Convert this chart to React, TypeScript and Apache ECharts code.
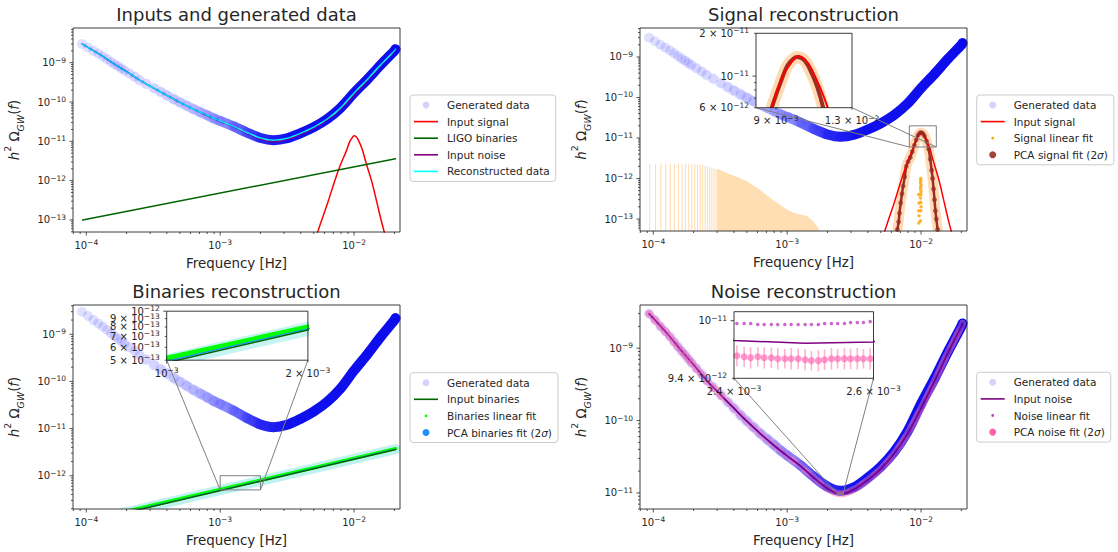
import React, { useEffect, useRef } from 'react';
import * as echarts from 'echarts';

const FONT = 'DejaVu Sans';
const INK = '#262626';

// ---------------- data (frequency in Hz, value h^2 Omega_GW) ----------------
const genFreq = [9.3e-5, 1.03e-4, 1.13e-4, 1.23e-4, 1.33e-4, 1.43e-4, 1.53e-4, 1.63e-4, 1.73e-4, 1.83e-4, 1.93e-4, 2.1e-4, 2.3e-4, 2.5e-4, 2.8e-4, 3.2e-4, 3.6e-4, 4.0e-4, 4.5e-4, 5.0e-4, 5.6e-4, 6.3e-4, 7.1e-4, 8.0e-4, 9.0e-4, 1.0e-3, 1.26e-3, 1.58e-3, 2.0e-3, 2.5e-3, 3.16e-3, 4.0e-3, 5.0e-3, 6.3e-3, 7.9e-3, 1.0e-2, 1.26e-2, 1.58e-2, 2.0e-2, 2.04e-2];
const genOmega = [3.0e-9, 2.45e-9, 2.0e-9, 1.7e-9, 1.45e-9, 1.23e-9, 1.05e-9, 9.1e-10, 8.1e-10, 7.1e-10, 6.3e-10, 5.3e-10, 4.4e-10, 3.6e-10, 2.9e-10, 2.25e-10, 1.8e-10, 1.48e-10, 1.18e-10, 9.8e-11, 8.1e-11, 6.6e-11, 5.5e-11, 4.6e-11, 3.8e-11, 3.3e-11, 2.4e-11, 1.68e-11, 1.22e-11, 1.07e-11, 1.2e-11, 1.62e-11, 2.3e-11, 3.7e-11, 7.0e-11, 1.7e-10, 3.8e-10, 8.8e-10, 2.0e-9, 2.2e-9];

const noiseFreq = [9.3e-5, 1.26e-4, 1.58e-4, 2.0e-4, 2.5e-4, 3.16e-4, 4.0e-4, 5.0e-4, 6.3e-4, 7.9e-4, 1.0e-3, 1.26e-3, 1.58e-3, 2.0e-3, 2.4e-3, 2.5e-3, 2.6e-3, 3.16e-3, 4.0e-3, 5.0e-3, 6.3e-3, 7.9e-3, 1.0e-2, 1.26e-2, 1.58e-2, 2.0e-2, 2.04e-2];
const noiseOmega = [3.0e-9, 1.62e-9, 9.8e-10, 5.9e-10, 3.6e-10, 2.3e-10, 1.48e-10, 9.8e-11, 6.6e-11, 4.6e-11, 3.25e-11, 2.35e-11, 1.62e-11, 1.15e-11, 9.79e-12, 9.76e-12, 9.775e-12, 1.12e-11, 1.51e-11, 2.15e-11, 3.5e-11, 6.5e-11, 1.48e-10, 3.5e-10, 8.5e-10, 2.0e-9, 2.2e-9];

const sigFreq = [5.0e-3, 5.6e-3, 6.3e-3, 7.1e-3, 7.9e-3, 8.7e-3, 9.3e-3, 9.65e-3, 1.0e-2, 1.035e-2, 1.07e-2, 1.15e-2, 1.23e-2, 1.35e-2, 1.48e-2, 1.62e-2, 1.78e-2];
const sigOmega = [2.5e-14, 7.9e-14, 2.5e-13, 8.9e-13, 2.5e-12, 5.4e-12, 1.0e-11, 1.22e-11, 1.38e-11, 1.31e-11, 1.12e-11, 6.3e-12, 2.8e-12, 1.0e-12, 2.8e-13, 7.9e-14, 2.5e-14];

const binFreq = [9.4e-5, 2.04e-2];
const binOmega = [1.0e-13, 3.6e-12];
const binLinFreq = [9.4e-5, 1.0e-3, 2.0e-3, 2.04e-2];
const binLinOmega = [1.07e-13, 5.14e-13, 8.0e-13, 3.75e-12];
const binPcaFreq = [9.4e-5, 1.0e-3, 2.0e-3, 2.04e-2];
const binPcaOmega = [1.02e-13, 4.93e-13, 7.8e-13, 3.67e-12];

const pcaSigFreq = [6.65e-3, 6.8e-3, 6.9e-3, 7.05e-3, 7.2e-3, 7.35e-3, 7.55e-3, 7.76e-3, 8.0e-3, 8.3e-3, 8.6e-3, 8.9e-3, 9.2e-3, 9.5e-3, 9.8e-3, 1.0e-2, 1.03e-2, 1.06e-2, 1.1e-2, 1.14e-2, 1.17e-2, 1.2e-2, 1.22e-2, 1.24e-2, 1.26e-2, 1.28e-2, 1.3e-2, 1.33e-2];
const pcaSigOmega = [5.5e-14, 8.5e-14, 1.4e-13, 2.5e-13, 4.2e-13, 6.5e-13, 1.1e-12, 2.0e-12, 2.6e-12, 3.3e-12, 4.6e-12, 6.6e-12, 9.0e-12, 1.18e-11, 1.33e-11, 1.36e-11, 1.3e-11, 1.12e-11, 8.3e-12, 5.3e-12, 3.0e-12, 1.6e-12, 1.0e-12, 5.5e-13, 3.0e-13, 1.6e-13, 1.0e-13, 5.5e-14];

const sigLinFreq = [9.95e-3, 9.95e-3, 9.9e-3, 1.0e-2, 9.95e-3, 9.9e-3, 1.0e-2, 9.95e-3, 9.9e-3, 9.95e-3, 1.0e-2, 9.95e-3, 9.9e-3, 9.6e-3, 9.65e-3, 9.6e-3, 9.65e-3, 9.6e-3];
const sigLinOmega = [1.0e-12, 9.0e-13, 8.0e-13, 7.0e-13, 6.2e-13, 5.5e-13, 4.8e-13, 4.0e-13, 3.3e-13, 2.6e-13, 2.0e-13, 1.6e-13, 9.0e-14, 4.0e-13, 2.5e-13, 1.6e-13, 1.2e-13, 8.0e-14];

// PCA signal fit error bars at low frequency (upper ends; lower ends are off-axis)
const pcaSigErrFreq = [9.4e-5, 1.04e-4, 1.14e-4, 1.24e-4, 1.34e-4, 1.44e-4, 1.54e-4, 1.64e-4, 1.74e-4, 1.84e-4, 1.94e-4, 2.04e-4, 2.14e-4, 2.24e-4, 2.34e-4, 2.44e-4, 2.54e-4, 2.64e-4, 2.74e-4, 2.84e-4, 2.94e-4, 3.04e-4, 3.14e-4, 3.24e-4, 3.34e-4, 3.44e-4];
const pcaSigErrTop = [2.3e-12, 2.3e-12, 2.3e-12, 2.3e-12, 2.28e-12, 2.28e-12, 2.28e-12, 2.27e-12, 2.27e-12, 2.26e-12, 2.26e-12, 2.25e-12, 2.24e-12, 2.22e-12, 2.15e-12, 2.07e-12, 1.98e-12, 1.9e-12, 1.83e-12, 1.76e-12, 1.7e-12, 1.63e-12, 1.57e-12, 1.51e-12, 1.46e-12, 1.41e-12];
const pcaSigEnvFreq = [3.0e-4, 3.5e-4, 4.2e-4, 5.0e-4, 6.2e-4, 7.8e-4, 9.5e-4, 1.1e-3, 1.25e-3, 1.4e-3, 1.55e-3, 1.67e-3, 1.76e-3];
const pcaSigEnvTop = [1.73e-12, 1.38e-12, 1.1e-12, 8.5e-13, 5.4e-13, 3.0e-13, 1.9e-13, 1.45e-13, 1.3e-13, 1.18e-13, 9.0e-14, 6.6e-14, 4.9e-14];

const pcaNoiseFreq = [9.3e-5, 1.03e-4, 1.13e-4, 1.23e-4, 1.33e-4, 1.43e-4, 1.53e-4, 1.63e-4, 1.73e-4, 1.83e-4, 1.93e-4, 2.1e-4, 2.3e-4, 2.5e-4, 2.8e-4, 3.2e-4];
const pcaNoiseOmega = [3.0e-9, 2.44e-9, 1.99e-9, 1.69e-9, 1.44e-9, 1.22e-9, 1.04e-9, 9.0e-10, 8.0e-10, 7.0e-10, 6.2e-10, 5.2e-10, 4.35e-10, 3.55e-10, 2.85e-10, 2.2e-10];

// zoomed window of the noise panel
const zoomFreq = [2.404e-3, 2.414e-3, 2.423e-3, 2.433e-3, 2.442e-3, 2.452e-3, 2.461e-3, 2.471e-3, 2.48e-3, 2.49e-3, 2.5e-3, 2.509e-3, 2.519e-3, 2.528e-3, 2.538e-3, 2.547e-3, 2.557e-3, 2.566e-3, 2.576e-3, 2.585e-3, 2.595e-3];
const noiseLinZoom = [9.97e-12, 9.97e-12, 9.97e-12, 9.96e-12, 9.96e-12, 9.96e-12, 9.96e-12, 9.96e-12, 9.96e-12, 9.96e-12, 9.96e-12, 9.96e-12, 9.96e-12, 9.97e-12, 9.97e-12, 9.97e-12, 9.97e-12, 9.98e-12, 9.98e-12, 9.98e-12, 9.99e-12];
const pcaNoiseZoom = [9.63e-12, 9.62e-12, 9.61e-12, 9.62e-12, 9.61e-12, 9.61e-12, 9.6e-12, 9.6e-12, 9.6e-12, 9.6e-12, 9.59e-12, 9.58e-12, 9.58e-12, 9.59e-12, 9.6e-12, 9.6e-12, 9.6e-12, 9.6e-12, 9.6e-12, 9.6e-12, 9.6e-12];
const pcaNoiseErr = [1.1e-13, 1.05e-13, 1.1e-13, 1.0e-13, 1.1e-13, 1.05e-13, 1.1e-13, 1.0e-13, 1.1e-13, 1.05e-13, 1.1e-13, 1.0e-13, 1.1e-13, 1.05e-13, 1.1e-13, 1.0e-13, 1.1e-13, 1.05e-13, 1.1e-13, 1.0e-13, 1.1e-13];

const titles = ['Inputs and generated data', 'Signal reconstruction', 'Binaries reconstruction', 'Noise reconstruction'];
const legendNames = [
  ['Generated data', 'Input signal', 'LIGO binaries', 'Input noise', 'Reconstructed data'],
  ['Generated data', 'Input signal', 'Signal linear fit', 'PCA signal fit (2σ)'],
  ['Generated data', 'Input binaries', 'Binaries linear fit', 'PCA binaries fit (2σ)'],
  ['Generated data', 'Input noise', 'Noise linear fit', 'PCA noise fit (2σ)'],
];

// inset tick labels
const inset2XTicks = [{ v: 9e-3, label: ['9 × 10', '−3'] }, { v: 1.3e-2, label: ['1.3 × 10', '−2'] }];
const inset2YTicks = [{ v: 2e-11, label: ['2 × 10', '−11'] }, { v: 1e-11, label: ['10', '−11'], major: true }, { v: 9e-12 }, { v: 8e-12 }, { v: 7e-12 }, { v: 6e-12, label: ['6 × 10', '−12'] }];
const inset3XTicks = [{ v: 1e-3, label: ['10', '−3'], major: true }, { v: 2e-3, label: ['2 × 10', '−3'] }];
const inset3YTicks = [{ v: 1e-12, label: ['10', '−12'], major: true }, { v: 9e-13, label: ['9 × 10', '−13'] }, { v: 8e-13, label: ['8 × 10', '−13'] }, { v: 7e-13, label: ['7 × 10', '−13'] }, { v: 6e-13, label: ['6 × 10', '−13'] }, { v: 5e-13, label: ['5 × 10', '−13'] }];
const inset4XTicks = [{ v: 2.4e-3, label: ['2.4 × 10', '−3'] }, { v: 2.6e-3, label: ['2.6 × 10', '−3'] }];
const inset4YTicks = [{ v: 1e-11, label: ['10', '−11'], major: true }, { v: 9.4e-12, label: ['9.4 × 10', '−12'] }];

// ---------------- layout ----------------
const LAYOUT = [
  { left: 73, top: 28, width: 327, height: 204 },
  { left: 640, top: 28, width: 327, height: 203 },
  { left: 73, top: 305, width: 327, height: 204 },
  { left: 640, top: 305, width: 327, height: 204 },
  { left: 756, top: 33.3, width: 96, height: 74.4 },
  { left: 166.7, top: 311.2, width: 141.2, height: 49 },
  { left: 734, top: 311.7, width: 139.5, height: 66.6 },
];
const XR: [number, number] = [7.96e-5, 2.203e-2];
const RANGES = [
  { x: XR, y: [4.95e-14, 7.62e-9] },
  { x: XR, y: [5.06e-14, 5.19e-9] },
  { x: XR, y: [1.97e-13, 4.17e-9] },
  { x: XR, y: [6.0e-12, 3.95e-9] },
  { x: [8.17e-3, 1.3e-2], y: [6e-12, 2e-11] },
  { x: [1e-3, 2e-3], y: [5e-13, 1e-12] },
  { x: [2.4e-3, 2.6e-3], y: [9.4e-12, 1.0097e-11] },
];
const TITLE_POS = [[236.5, 5], [803.5, 5], [236.5, 282], [803.5, 282]];
const LEGEND_POS = [[410, 95], [976.7, 95], [410, 372.7], [976.7, 372.3]];

type Tick = { v: number; major?: boolean; label?: string[] };

const TICK_RICH = {
  b: { fontSize: 10, fontFamily: FONT, lineHeight: 13 },
  s: { fontSize: 7.5, fontFamily: FONT, lineHeight: 8, verticalAlign: 'top' },
};

function logTicks(min: number, max: number): Tick[] {
  const out: Tick[] = [];
  const e0 = Math.floor(Math.log10(min));
  const e1 = Math.ceil(Math.log10(max));
  for (let e = e0; e <= e1; e++) {
    for (let k = 1; k <= 9; k++) {
      const v = k * Math.pow(10, e);
      if (v < min * 0.9999 || v > max * 1.0001) continue;
      if (k === 1) out.push({ v, major: true, label: ['10', '−' + String(-e)] });
      else out.push({ v, major: false });
    }
  }
  return out;
}

function decor(g: number, xt: Tick[], yt: Tick[]) {
  const r = RANGES[g];
  const items: { kind: number; t?: Tick }[] = [];
  const data: number[][] = [];
  xt.forEach((t) => { items.push({ kind: 0, t }); data.push([t.v, r.y[0]]); });
  yt.forEach((t) => { items.push({ kind: 1, t }); data.push([r.x[0], t.v]); });
  items.push({ kind: 2 });
  data.push([r.x[0], r.y[0]]);
  return {
    type: 'custom', name: 'axes-' + g, xAxisIndex: g, yAxisIndex: g, z: 8, silent: true, clip: false, data,
    renderItem: (params: any, api: any) => {
      const it = items[params.dataIndex];
      if (it.kind === 2) {
        const a = api.coord([r.x[0], r.y[0]]);
        const b = api.coord([r.x[1], r.y[1]]);
        return { type: 'rect', shape: { x: a[0], y: b[1], width: b[0] - a[0], height: a[1] - b[1] }, style: { fill: 'none', stroke: INK, lineWidth: 0.9 } };
      }
      const t = it.t as Tick;
      const p = api.coord([api.value(0), api.value(1)]);
      const len = t.major ? 3.5 : 2;
      const ch: any[] = [];
      const txt = t.label ? `{b|${t.label[0]}}{s|${t.label[1]}}` : '';
      if (it.kind === 0) {
        ch.push({ type: 'line', shape: { x1: p[0], y1: p[1], x2: p[0], y2: p[1] + len }, style: { stroke: INK, lineWidth: 0.8 } });
        if (t.label) ch.push({ type: 'text', x: p[0], y: p[1] + 6.5, style: { text: txt, rich: TICK_RICH, fill: INK, fontSize: 10, fontFamily: FONT, align: 'center', verticalAlign: 'top' } });
      } else {
        ch.push({ type: 'line', shape: { x1: p[0] - len, y1: p[1], x2: p[0], y2: p[1] }, style: { stroke: INK, lineWidth: 0.8 } });
        if (t.label) ch.push({ type: 'text', x: p[0] - 7, y: p[1], style: { text: txt, rich: TICK_RICH, fill: INK, fontSize: 10, fontFamily: FONT, align: 'right', verticalAlign: 'middle' } });
      }
      return { type: 'group', children: ch };
    },
  };
}

function zoomMark(main: number, inset: number) {
  const r = RANGES[inset];
  const L = LAYOUT[inset];
  return {
    type: 'custom', name: 'zoom-' + inset, xAxisIndex: main, yAxisIndex: main, z: 3, silent: true, clip: false,
    data: [[r.x[0], r.y[0]]],
    renderItem: (_p: any, api: any) => {
      const a = api.coord([r.x[0], r.y[0]]);
      const b = api.coord([r.x[1], r.y[1]]);
      const by = L.top + L.height;
      const st = { stroke: '#7f7f7f', lineWidth: 1, fill: 'none' };
      return {
        type: 'group', children: [
          { type: 'rect', shape: { x: a[0], y: b[1], width: b[0] - a[0], height: a[1] - b[1] }, style: st },
          { type: 'line', shape: { x1: L.left, y1: by, x2: a[0], y2: a[1] }, style: st },
          { type: 'line', shape: { x1: L.left + L.width, y1: by, x2: b[0], y2: a[1] }, style: st },
        ],
      };
    },
  };
}

const P = (f: number[], v: number[]) => f.map((x, i) => [x, v[i]]);

function scatter(name: string, g: number, data: number[][], size: number, color: string) {
  return { type: 'scatter', name, xAxisIndex: g, yAxisIndex: g, data, symbol: 'circle', symbolSize: size, itemStyle: { color }, silent: true, clip: true, z: g >= 4 ? 6 : 2 };
}
function line(name: string, g: number, data: number[][], width: number, color: any, smooth: number | boolean = false) {
  return {
    type: 'line', name, xAxisIndex: g, yAxisIndex: g, data, symbol: 'none', showSymbol: false, smooth,
    lineStyle: { width, color, cap: 'round', join: 'round' }, itemStyle: { color: typeof color === 'string' ? color : '#0000ff' },
    silent: true, clip: true, z: g >= 4 ? 6 : 2,
  };
}
// thick strokes drawn through a custom series so that they are clipped exactly at the frame
function poly(name: string, g: number, f: number[], v: number[], width: number, color: string, smooth = 0) {
  return {
    type: 'custom', name, xAxisIndex: g, yAxisIndex: g, z: g >= 4 ? 6 : 2, silent: true, clip: true,
    data: [[f[0], v[0]]],
    renderItem: (_p: any, api: any) => ({
      type: 'polyline',
      shape: { points: f.map((x, i) => api.coord([x, v[i]])), smooth },
      style: { stroke: color, lineWidth: width, fill: 'none', lineCap: 'round', lineJoin: 'round' },
    }),
  };
}

const BAND = {
  type: 'linear', x: 0, y: 0, x2: 1, y2: 0,
  colorStops: [
    { offset: 0, color: 'rgba(0,0,255,0)' },
    { offset: 0.22, color: 'rgba(0,0,255,0.04)' },
    { offset: 0.36, color: 'rgba(0,0,255,0.2)' },
    { offset: 0.46, color: 'rgba(10,10,255,0.5)' },
    { offset: 0.56, color: 'rgba(0,0,240,0.82)' },
    { offset: 0.66, color: 'rgba(0,0,235,0.93)' },
    { offset: 1, color: 'rgba(0,0,235,0.95)' },
  ],
};
const GEN_COLOR = 'rgba(0,0,255,0.15)';
const ORANGE_ERR = '#ffdeb4';

const LINE_ICON = 'path://M0,0H24V1.6H0Z';
const DOT_ICON = 'path://M0,0M10,10M3,5A2,2,0,1,1,7,5A2,2,0,1,1,3,5Z';
const LEGEND_STYLE: Record<string, { icon: string; color: string }> = {
  'Generated data': { icon: 'circle', color: '#d3d3fb' },
  'Input signal': { icon: LINE_ICON, color: '#ff0000' },
  'LIGO binaries': { icon: LINE_ICON, color: '#006400' },
  'Input noise': { icon: LINE_ICON, color: '#800080' },
  'Reconstructed data': { icon: LINE_ICON, color: '#00ffff' },
  'Signal linear fit': { icon: DOT_ICON, color: '#ffa500' },
  'PCA signal fit (2σ)': { icon: 'circle', color: '#a3433a' },
  'Input binaries': { icon: LINE_ICON, color: '#006400' },
  'Binaries linear fit': { icon: DOT_ICON, color: '#00ff00' },
  'PCA binaries fit (2σ)': { icon: 'circle', color: '#1e90ff' },
  'Noise linear fit': { icon: DOT_ICON, color: '#bf40bf' },
  'PCA noise fit (2σ)': { icon: 'circle', color: '#ff62ad' },
};

function buildOption() {
  const gen = P(genFreq, genOmega);
  const noise = P(noiseFreq, noiseOmega);
  const sig = P(sigFreq, sigOmega);
  const bin = P(binFreq, binOmega);
  const binLin = P(binLinFreq, binLinOmega);
  const binPca = P(binPcaFreq, binPcaOmega);
  const pcaSig = P(pcaSigFreq, pcaSigOmega);

  const nameStyle = {
    fontFamily: FONT, fontSize: 13.4, color: INK,
    rich: {
      i: { fontStyle: 'italic', fontSize: 13.4, fontFamily: FONT, lineHeight: 22, color: INK },
      n: { fontSize: 13.4, fontFamily: FONT, lineHeight: 22, color: INK },
      sup: { fontSize: 9.4, fontFamily: FONT, lineHeight: 14, verticalAlign: 'top', color: INK },
      sub: { fontSize: 9.4, fontStyle: 'italic', fontFamily: FONT, lineHeight: 12, verticalAlign: 'bottom', color: INK },
    },
  };
  const hidden = { axisLine: { show: false }, axisTick: { show: false }, axisLabel: { show: false }, splitLine: { show: false }, minorTick: { show: false }, minorSplitLine: { show: false } };

  const xAxis = RANGES.map((r, i) => ({
    type: 'log', logBase: 10, gridIndex: i, min: r.x[0], max: r.x[1], show: i < 4,
    name: i < 4 ? 'Frequency [Hz]' : '', nameLocation: 'middle', nameGap: 25, nameTextStyle: { fontFamily: FONT, fontSize: 13.4, color: INK },
    ...hidden,
  }));
  const yAxis = RANGES.map((r, i) => ({
    type: 'log', logBase: 10, gridIndex: i, min: r.y[0], max: r.y[1], show: i < 4,
    name: i < 4 ? '{i|h}{sup|2}{n| Ω}{sub|GW}{n|(}{i|f}{n|)}' : '', nameLocation: 'middle', nameRotate: 90, nameGap: 48, nameTextStyle: nameStyle,
    ...hidden,
  }));

  const grid = LAYOUT.map((l, i) => ({
    left: l.left, top: l.top, width: l.width, height: l.height, containLabel: false,
    show: i >= 4, backgroundColor: '#ffffff', borderWidth: 0, z: i >= 4 ? 5 : 0,
  }));

  const series: any[] = [];

  // ---- panel 1: inputs
  series.push(scatter('Generated data', 0, gen, 10, GEN_COLOR));
  series.push(line('gen-band-0', 0, gen, 10, BAND, 0.3));
  series.push(line('Input signal', 0, sig, 1.5, '#ff0000', 0.4));
  series.push(line('LIGO binaries', 0, bin, 1.5, '#006400'));
  series.push(line('Input noise', 0, noise, 1.5, '#800080', 0.3));
  series.push(line('Reconstructed data', 0, gen, 1.5, '#00ffff', 0.3));

  // ---- panel 2: signal
  series.push({
    type: 'custom', name: 'pca-sig-err-lines', xAxisIndex: 1, yAxisIndex: 1, z: 2, silent: true, clip: true,
    data: P(pcaSigErrFreq, pcaSigErrTop),
    renderItem: (_p: any, api: any) => {
      const a = api.coord([api.value(0), api.value(1)]);
      const b = api.coord([api.value(0), RANGES[1].y[0]]);
      return { type: 'line', shape: { x1: a[0], y1: a[1], x2: b[0], y2: b[1] + 2 }, style: { stroke: ORANGE_ERR, lineWidth: 1.1 } };
    },
  });
  series.push({
    type: 'custom', name: 'pca-sig-err-area', xAxisIndex: 1, yAxisIndex: 1, z: 2, silent: true, clip: true,
    data: [[pcaSigEnvFreq[0], pcaSigEnvTop[0]]],
    renderItem: (_p: any, api: any) => {
      const pts = pcaSigEnvFreq.map((f, i) => api.coord([f, pcaSigEnvTop[i]]));
      const yb = RANGES[1].y[0];
      const b1 = api.coord([pcaSigEnvFreq[pcaSigEnvFreq.length - 1], yb]);
      const b0 = api.coord([pcaSigEnvFreq[0], yb]);
      return { type: 'polygon', shape: { points: [...pts, [b1[0], b1[1] + 2], [b0[0], b0[1] + 2]] }, style: { fill: ORANGE_ERR } };
    },
  });
  series.push(scatter('Generated data', 1, gen, 10, GEN_COLOR));
  series.push(line('gen-band-1', 1, gen, 10, BAND, 0.3));
  series.push(poly('pca-sig-glow-1', 1, pcaSigFreq, pcaSigOmega, 10, 'rgba(255,205,150,0.7)', 0.3));
  series.push(poly('pca-sig-core-1', 1, pcaSigFreq, pcaSigOmega, 2.5, '#9b2f28', 0.3));
  series.push(scatter('PCA signal fit (2σ)', 1, pcaSig, 5, 'rgba(150,40,35,0.8)'));
  series.push(line('Input signal', 1, sig, 1.5, '#ff0000', 0.4));
  series.push(scatter('Signal linear fit', 1, P(sigLinFreq, sigLinOmega), 3.5, '#ffa500'));

  // ---- panel 3: binaries
  series.push(scatter('Generated data', 2, gen, 10, GEN_COLOR));
  series.push(line('gen-band-2', 2, gen, 10, BAND, 0.3));
  series.push(poly('pca-bin-glow-2', 2, binPcaFreq, binPcaOmega, 10, 'rgba(175,238,238,0.8)'));
  series.push(poly('Binaries linear fit', 2, binLinFreq, binLinOmega, 3.5, '#00ff00'));
  series.push(line('PCA binaries fit (2σ)', 2, binPca, 1.2, '#1e90ff'));
  series.push(line('Input binaries', 2, bin, 1.5, '#006400'));

  // ---- panel 4: noise
  series.push(scatter('Generated data', 3, gen, 10, GEN_COLOR));
  series.push(line('gen-band-3', 3, gen, 10, BAND, 0.3));
  series.push(line('pca-noise-glow-3', 3, noise, 7, 'rgba(255,120,185,0.5)', 0.3));
  series.push(scatter('PCA noise fit (2σ)', 3, P(pcaNoiseFreq, pcaNoiseOmega), 8, 'rgba(255,105,180,0.45)'));
  series.push(scatter('Noise linear fit', 3, P(zoomFreq, noiseLinZoom), 3.5, '#bf40bf'));
  series.push(line('Input noise', 3, noise, 1.8, '#800080', 0.3));

  // ---- inset of panel 2
  series.push(poly('pca-sig-glow-4', 4, pcaSigFreq, pcaSigOmega, 12, 'rgba(255,205,150,0.75)', 0.3));
  series.push(poly('pca-sig-core-4', 4, pcaSigFreq, pcaSigOmega, 4, '#9b2f28', 0.3));
  series.push(poly('sig-4', 4, sigFreq, sigOmega, 2, '#ff0000', 0.4));
  // ---- inset of panel 3
  series.push(poly('pca-bin-glow-5', 5, binPcaFreq, binPcaOmega, 14, 'rgba(175,238,238,0.7)'));
  series.push(poly('binlin-5', 5, binLinFreq, binLinOmega, 5, '#00ff00'));
  series.push(line('binpca-5', 5, binPca, 1.2, '#1e90ff'));
  series.push(line('bin-5', 5, bin, 1.5, '#006400'));
  // ---- inset of panel 4
  series.push({
    type: 'custom', name: 'pca-noise-err-6', xAxisIndex: 6, yAxisIndex: 6, z: 6, silent: true, clip: true,
    data: zoomFreq.map((f, i) => [f, pcaNoiseZoom[i], pcaNoiseErr[i]]),
    renderItem: (_p: any, api: any) => {
      const f = api.value(0), v = api.value(1), e = api.value(2);
      const a = api.coord([f, v - e]);
      const b = api.coord([f, v + e]);
      return { type: 'line', shape: { x1: a[0], y1: a[1], x2: b[0], y2: b[1] }, style: { stroke: '#ffb3d1', lineWidth: 1.6 } };
    },
  });
  series.push(scatter('pca-noise-6', 6, P(zoomFreq, pcaNoiseZoom), 7, 'rgba(255,105,180,0.85)'));
  series.push(scatter('noise-lin-6', 6, P(zoomFreq, noiseLinZoom), 3.5, '#bf40bf'));
  series.push(line('noise-6', 6, noise, 1.5, '#800080', false));

  // zoom boxes and connectors
  series.push(zoomMark(1, 4));
  series.push(zoomMark(2, 5));
  series.push(zoomMark(3, 6));

  // axes decorations
  for (let g = 0; g < 4; g++) series.push(decor(g, logTicks(RANGES[g].x[0], RANGES[g].x[1]), logTicks(RANGES[g].y[0], RANGES[g].y[1])));
  series.push(decor(4, inset2XTicks, inset2YTicks));
  series.push(decor(5, inset3XTicks, inset3YTicks));
  series.push(decor(6, inset4XTicks, inset4YTicks));

  const title = titles.map((t, i) => ({
    text: t, left: TITLE_POS[i][0], top: TITLE_POS[i][1], textAlign: 'center', padding: 0,
    textStyle: { fontFamily: FONT, fontSize: 18, fontWeight: 'normal', color: INK },
  }));

  const legend = legendNames.map((names, i) => ({
    left: LEGEND_POS[i][0], top: LEGEND_POS[i][1], orient: 'vertical', selectedMode: false,
    itemWidth: 24, itemHeight: 7, itemGap: 4.6, padding: [4, 6, 4, 4],
    borderColor: '#cccccc', borderWidth: 1, borderRadius: 3, backgroundColor: '#ffffff',
    textStyle: { fontFamily: FONT, fontSize: 10.5, color: INK, lineHeight: 12, padding: [0, 0, 0, 4], rich: { it: { fontFamily: FONT, fontSize: 10.5, fontStyle: 'italic', lineHeight: 12, color: INK } } },
    formatter: (n: string) => n.replace('2σ', '2{it|σ}'),
    data: names.map((n) => ({ name: n, icon: LEGEND_STYLE[n].icon, itemStyle: { color: LEGEND_STYLE[n].color, opacity: 1 } })),
  }));

  return {
    animation: false,
    backgroundColor: '#ffffff',
    textStyle: { fontFamily: FONT },
    title, legend, grid, xAxis, yAxis, series,
  };
}

export default function App() {
  const ref = useRef<HTMLDivElement>(null);
  useEffect(() => {
    if (!ref.current) return;
    const chart = echarts.init(ref.current, undefined, { renderer: 'svg' });
    chart.setOption(buildOption() as any);
    return () => { chart.dispose(); };
  }, []);
  return <div ref={ref} style={{ position: 'absolute', left: 0, top: 0, width: 1118, height: 552, background: '#ffffff' }} />;
}
